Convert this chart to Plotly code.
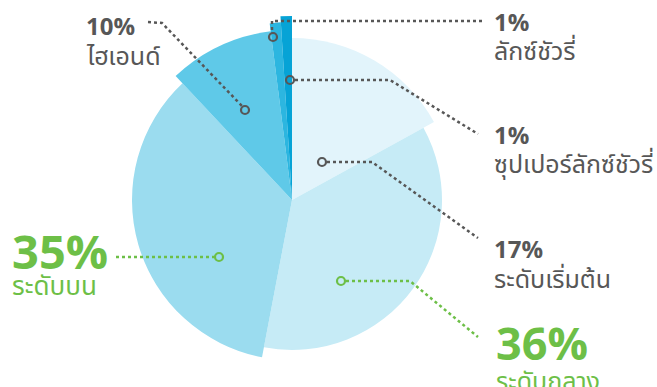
import plotly.graph_objects as go

W, H = 657, 387

# ---- data ----
categories = ["ระดับเริ่มต้น", "ระดับกลาง", "ระดับบน", "ไฮเอนด์", "ลักซ์ชัวรี่", "ซุปเปอร์ลักซ์ชัวรี่"]
shares = [17, 36, 35, 10, 1, 1]          # percent
slice_radius = [162, 150, 160, 170, 178, 184]  # visual radius of each slice
slice_colors = ["#e2f4fb", "#c6ebf6", "#9bdcef", "#5fc9e8", "#2cb6e0", "#06a3d6"]

# ---- pie as barpolar (slices with different radii) ----
thetas, widths = [], []
start = 0.0
for s in shares:
    w = s / 100 * 360
    thetas.append(start + w / 2)
    widths.append(w)
    start += w

fig = go.Figure()
fig.add_trace(go.Barpolar(
    r=slice_radius, theta=thetas, width=widths,
    marker=dict(color=slice_colors, line=dict(width=0)),
    hoverinfo="skip", showlegend=False,
))

cx, cy, R = 292, 200, 185
def px(x):
    return x / W
def py(y):
    return 1 - y / H

fig.update_layout(
    width=W, height=H,
    margin=dict(l=0, r=0, t=0, b=0),
    paper_bgcolor="white", plot_bgcolor="white",
    polar=dict(
        domain=dict(x=[px(cx - R), px(cx + R)], y=[py(cy + R), py(cy - R)]),
        bgcolor="rgba(0,0,0,0)",
        radialaxis=dict(range=[0, R], visible=False),
        angularaxis=dict(visible=False, direction="clockwise", rotation=90),
        bargap=0,
    ),
    showlegend=False,
)

GREY = "#575757"
GREEN = "#6dbf47"
FONT = "Noto Sans Thai, Noto Sans, sans-serif"

shapes = []
def leader(points, color):
    path = "M " + " L ".join(f"{px(x)},{py(y)}" for x, y in points)
    shapes.append(dict(type="path", path=path, xref="paper", yref="paper",
                       line=dict(color=color, width=2.5, dash="3px,3px")))

def ring(x, y, color, r=4):
    shapes.append(dict(type="circle", xref="paper", yref="paper",
                       x0=px(x - r), x1=px(x + r), y0=py(y + r), y1=py(y - r),
                       line=dict(color=color, width=2.2), fillcolor="rgba(255,255,255,0)"))

# leaders (pixel layout)
leader([(148, 22), (162, 23), (242, 106)], GREY); ring(245, 110, GREY)
leader([(482, 21), (272, 21), (272, 32)], GREY); ring(273, 37, GREY)
leader([(295, 80), (390, 80), (478, 134)], GREY); ring(290, 80, GREY)
leader([(327, 162), (372, 162), (478, 238)], GREY); ring(322, 162, GREY)
leader([(346, 281), (410, 281), (478, 337)], GREEN); ring(341, 281, GREEN)
leader([(116, 257), (214, 257)], GREEN); ring(219, 257, GREEN)
fig.update_layout(shapes=shapes)

labels = [
    # (pct, name, x, y_pct, y_name, color, pct_size, name_size)
    (shares[3], categories[3], 84, 28, 57, GREY, 24, 25),
    (shares[4], categories[4], 492, 24, 52, GREY, 24, 25),
    (shares[5], categories[5], 492, 137, 165, GREY, 24, 25),
    (shares[0], categories[0], 492, 251, 280, GREY, 24, 25),
    (shares[1], categories[1], 494, 346, 382, GREEN, 45, 25),
    (shares[2], categories[2], 10, 255, 287, GREEN, 47, 26),
]
for pct, name, x, yp, yn, col, s1, s2 in labels:
    fig.add_annotation(x=px(x), y=py(yp), xref="paper", yref="paper",
                       xanchor="left", yanchor="middle", showarrow=False,
                       text=f"<b>{pct}%</b>", font=dict(family=FONT, size=s1, color=col))
    fig.add_annotation(x=px(x), y=py(yn), xref="paper", yref="paper",
                       xanchor="left", yanchor="middle", showarrow=False,
                       text=name, font=dict(family=FONT, size=s2, color=col))

fig.write_html("out.html", config={"displayModeBar": False},
               post_script="document.body.style.margin='0';document.body.style.padding='0';")
